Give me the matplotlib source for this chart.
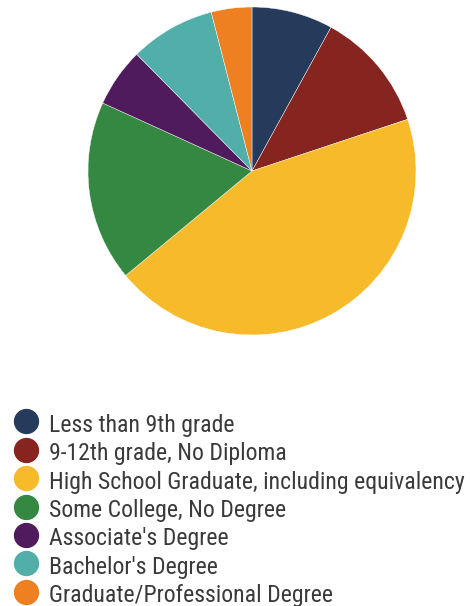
import matplotlib
matplotlib.use("Agg")
import matplotlib.pyplot as plt
from matplotlib.lines import Line2D

categories = ["Less than 9th grade", "9-12th grade, No Diploma",
              "High School Graduate, including equivalency",
              "Some College, No Degree", "Associate's Degree",
              "Bachelor's Degree", "Graduate/Professional Degree"]
values = [8.0, 11.9, 44.1, 17.8, 5.8, 8.4, 4.0]
colors = ["#263a5c", "#86241f", "#f7ba2b", "#348841", "#4f1b5c", "#52aea9", "#ef8022"]

plt.rcParams['font.family'] = ['Roboto Condensed', 'Roboto', 'DejaVu Sans']

W, H = 470, 606
fig = plt.figure(figsize=(W / 100, H / 100), dpi=100)
cx, cy, r = 252, 171, 164
ax = fig.add_axes([(cx - r) / W, (H - cy - r) / H, 2 * r / W, 2 * r / H])
ax.pie(values, colors=colors, startangle=90, counterclock=False, radius=1,
       wedgeprops=dict(edgecolor='white', linewidth=0.3))
ax.set_xlim(-1, 1)
ax.set_ylim(-1, 1)
ax.set_aspect('equal')
ax.axis('off')

# legend
row0_base, row0_dot, step = 431.7, 421.3, 28.4
for i, (lab, c) in enumerate(zip(categories, colors)):
    fig.add_artist(Line2D([26 / W], [1 - (row0_dot + step * i) / H], marker='o',
                          linestyle='none', markersize=17.2,
                          markerfacecolor=c, markeredgecolor=c,
                          transform=fig.transFigure))
    fig.text(49 / W, 1 - (row0_base + step * i) / H, lab, fontsize=17.1,
             color='#3a3a3a', va='baseline', ha='left')

fig.savefig("out.png", dpi=100)
